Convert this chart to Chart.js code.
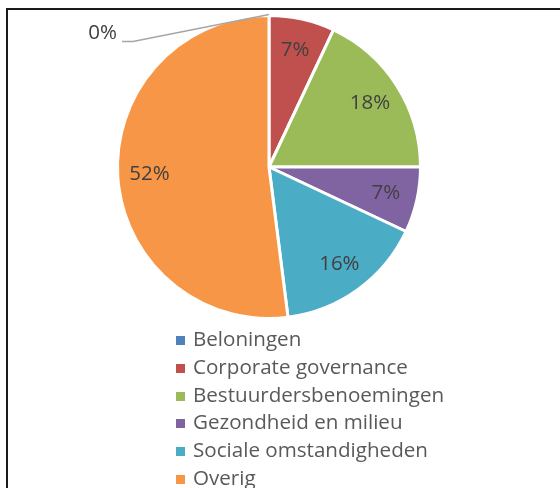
<!DOCTYPE html>
<html>
<head>
<meta charset="utf-8">
<script src="https://cdn.jsdelivr.net/npm/chart.js@4/dist/chart.umd.min.js"></script>
<style>
    html, body { margin: 0; padding: 0; background: #fff; }
    #wrap { position: relative; width: 560px; height: 488px; overflow: hidden; }
    #frame { position: absolute; left: 6px; top: 8px; right: -10px; bottom: -10px;
             border-left: 2px solid #1a1a1a; border-top: 2px solid #1a1a1a; }
    #chart { position: absolute; left: 0; top: 0; }
    #legend { position: absolute; left: 176px; top: 325px; margin: 0; padding: 0; list-style: none;
              font-family: "Open Sans", sans-serif; font-size: 20.6px; color: #595959; }
    #legend li { height: 27.8px; line-height: 27.8px; white-space: nowrap; }
    #legend span { display: inline-block; width: 9px; height: 9px; margin-right: 8px; vertical-align: 1px; }
</style>
</head>
<body>
<div id="wrap">
    <div id="frame"></div>
    <canvas id="chart" width="560" height="488"></canvas>
    <ul id="legend"></ul>
</div>
<script>
// Chart data
const categories = ['Beloningen', 'Corporate governance', 'Bestuurdersbenoemingen',
    'Gezondheid en milieu', 'Sociale omstandigheden', 'Overig'];
const shares = [0, 7, 18, 7, 16, 52];
const colors = ['#4F81BD', '#C0504D', '#9BBB59', '#8064A2', '#4BACC6', '#F79646'];

// Percentage labels inside slices, zero slices get a leader line outside
const sliceLabels = {
    id: 'sliceLabels',
    afterDatasetsDraw(chart) {
        const ctx = chart.ctx;
        const meta = chart.getDatasetMeta(0);
        ctx.save();
        ctx.font = '20.5px "Open Sans", sans-serif';
        ctx.fillStyle = '#404040';
        ctx.textBaseline = 'middle';
        meta.data.forEach((arc, i) => {
            const v = shares[i];
            const mid = (arc.startAngle + arc.endAngle) / 2;
            if (v === 0) {
                // leader line from the slice edge to the label at the upper left
                const ex = arc.x + Math.cos(mid) * arc.outerRadius;
                const ey = arc.y + Math.sin(mid) * arc.outerRadius - 1;
                const kx = chart.chartArea.left + 17;
                const ky = ey + 27;
                ctx.strokeStyle = '#a6a6a6';
                ctx.lineWidth = 1.5;
                ctx.beginPath();
                ctx.moveTo(ex, ey);
                ctx.lineTo(kx, ky);
                ctx.lineTo(kx - 11, ky);
                ctx.stroke();
                ctx.textAlign = 'right';
                ctx.fillText(v + '%', kx - 16, ky - 8);
                return;
            }
            const r = arc.outerRadius * 0.79;
            ctx.textAlign = 'center';
            ctx.fillText(v + '%', arc.x + Math.cos(mid) * r, arc.y + Math.sin(mid) * r);
        });
        ctx.restore();
    }
};

new Chart(document.getElementById('chart'), {
    type: 'pie',
    data: {
        labels: categories,
        datasets: [{
            data: shares,
            backgroundColor: colors,
            borderColor: '#ffffff',
            borderWidth: 3,
        }]
    },
    options: {
        responsive: false,
        animation: false,
        layout: {
            padding: { left: 116, top: 14, right: 138, bottom: 168 }
        },
        plugins: {
            legend: { display: false },
            tooltip: { enabled: false },
        },
    },
    plugins: [sliceLabels],
});

// Legend list
const legend = document.getElementById('legend');
categories.forEach((name, i) => {
    const li = document.createElement('li');
    li.innerHTML = '<span style="background:' + colors[i] + '"></span>' + name;
    legend.appendChild(li);
});
</script>
</body>
</html>
